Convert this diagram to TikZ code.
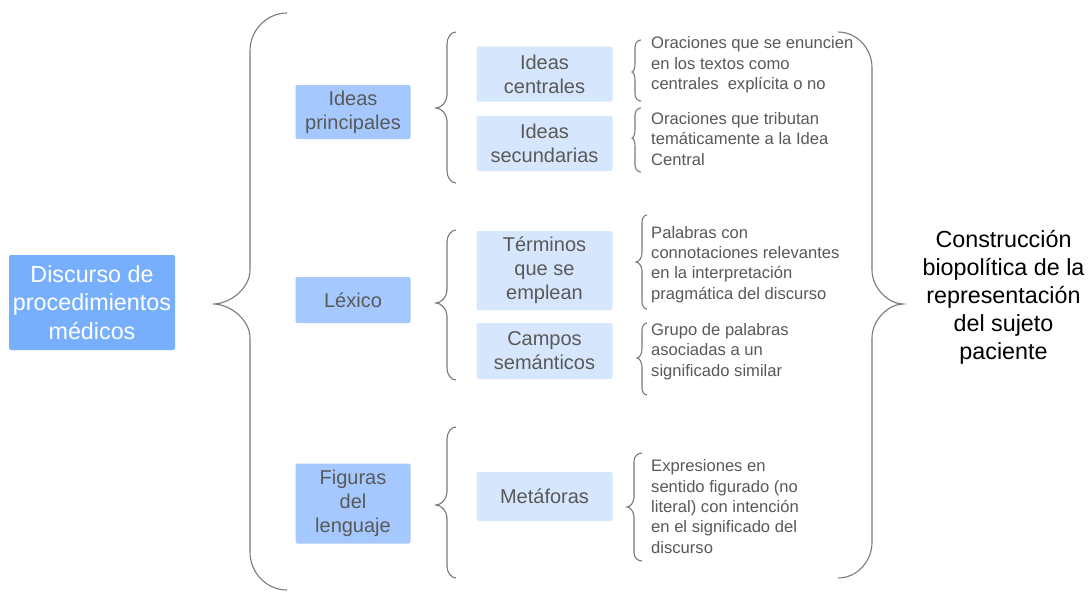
\documentclass[tikz,border=0pt]{standalone}
\usepackage{fontspec}
\setmainfont{Liberation Sans}
\definecolor{boxdark}{HTML}{77AFFD}
\definecolor{boxmid}{HTML}{A5C9FE}
\definecolor{boxlight}{HTML}{D6E7FD}
\definecolor{txtgray}{HTML}{595959}
\definecolor{bracegray}{HTML}{7A7A7A}
\tikzset{
  mainbox/.style={fill=boxdark, rounded corners=2pt, text=white, align=center, inner sep=0pt,
     font=\fontsize{23.3}{28.5}\selectfont},
  midbox/.style={fill=boxmid, rounded corners=2pt, text=txtgray, align=center, inner sep=0pt,
     minimum width=115pt, font=\fontsize{20}{24}\selectfont},
  subbox/.style={fill=boxlight, rounded corners=2pt, text=txtgray, align=center, inner sep=0pt,
     minimum width=136pt, font=\fontsize{20}{24}\selectfont},
  desc/.style={anchor=west, align=left, inner sep=0pt, text=txtgray,
     font=\fontsize{16.6}{20.3}\selectfont},
  result/.style={align=center, inner sep=0pt, text=black,
     font=\fontsize{23.3}{28}\selectfont},
  bracestyle/.style={draw=bracegray, line width=1.1pt}
}
% #1 xend #2 xv #3 xtip #4 ytop #5 ytip #6 ybot #7 corner dy #8 tip dy
\newcommand{\mybracket}[8]{%
  \draw[bracestyle] (#1,#4) .. controls ({#1+0.55*(#2-#1)},#4) and (#2,{#4+0.45*#7}) .. (#2,{#4+#7})
    -- (#2,{#5-#8}) .. controls (#2,{#5-0.45*#8}) and ({#3+0.45*(#2-#3)},#5) .. (#3,#5)
    .. controls ({#3+0.45*(#2-#3)},#5) and (#2,{#5+0.45*#8}) .. (#2,{#5+#8})
    -- (#2,{#6-#7}) .. controls (#2,{#6-0.45*#7}) and ({#1+0.55*(#2-#1)},#6) .. (#1,#6);}
\begin{document}
\begin{tikzpicture}[x=1pt,y=-1pt]
\useasboundingbox[fill=white] (0,0) rectangle (1089,592);

% main box
\node[mainbox, minimum width=166pt, minimum height=95pt] (disc) at (92,302.5)
  {Discurso de\\procedimientos\\médicos};

% level-2 boxes
\node[midbox, minimum height=54pt] (ip) at (353,112) {Ideas\\principales};
\node[midbox, minimum height=46pt] (lex) at (353,300) {Léxico};
\node[midbox, minimum height=80pt] (fig) at (353,503.5) {Figuras\\del\\lenguaje};

% level-3 boxes
\node[subbox, minimum height=55pt] (ic) at (544.5,74) {Ideas\\centrales};
\node[subbox, minimum height=55pt] (is) at (544.5,143.5) {Ideas\\secundarias};
\node[subbox, minimum height=79pt] (ter) at (544.5,270.5) {Términos\\que se\\emplean};
\node[subbox, minimum height=56pt] (cam) at (544.5,351) {Campos\\semánticos};
\node[subbox, minimum height=49pt] (met) at (544.5,496.5) {Metáforas};

% descriptions
\node[desc] (d1) at (651,65) {Oraciones que se enuncien\\en los textos como\\centrales\ \ explícita o no};
\node[desc] (d2) at (651,139) {Oraciones que tributan\\temáticamente a la Idea\\Central};
\node[desc] (d3) at (651,264.5) {Palabras con\\connotaciones relevantes\\en la interpretación\\pragmática del discurso};
\node[desc] (d4) at (651,351.5) {Grupo de palabras\\asociadas a un\\significado similar};
\node[desc] (d5) at (651,506.5) {Expresiones en\\sentido figurado (no\\literal) con intención\\en el significado del\\discurso};

% result
\node[result] (res) at (1003.5,297) {Construcción\\biopolítica de la\\representación\\del sujeto\\paciente};

% braces
\mybracket{287}{250}{213}{13}{304}{590}{38}{34}
\mybracket{456}{447}{436}{32}{108}{183}{12}{13}
\mybracket{456}{447}{436}{230}{303}{380}{12}{13}
\mybracket{456}{447}{436}{427}{505}{578}{12}{13}
\mybracket{641}{635}{632}{40}{72}{101}{7}{8}
\mybracket{641}{635}{632}{108}{138}{172}{7}{8}
\mybracket{647}{642}{636}{215}{262}{309}{7}{9}
\mybracket{647}{642}{637}{323}{358}{395}{7}{9}
\mybracket{642}{634}{627}{453}{507}{561}{8}{10}
\mybracket{838}{872}{903}{32}{304}{578}{36}{34}
\end{tikzpicture}
\end{document}
